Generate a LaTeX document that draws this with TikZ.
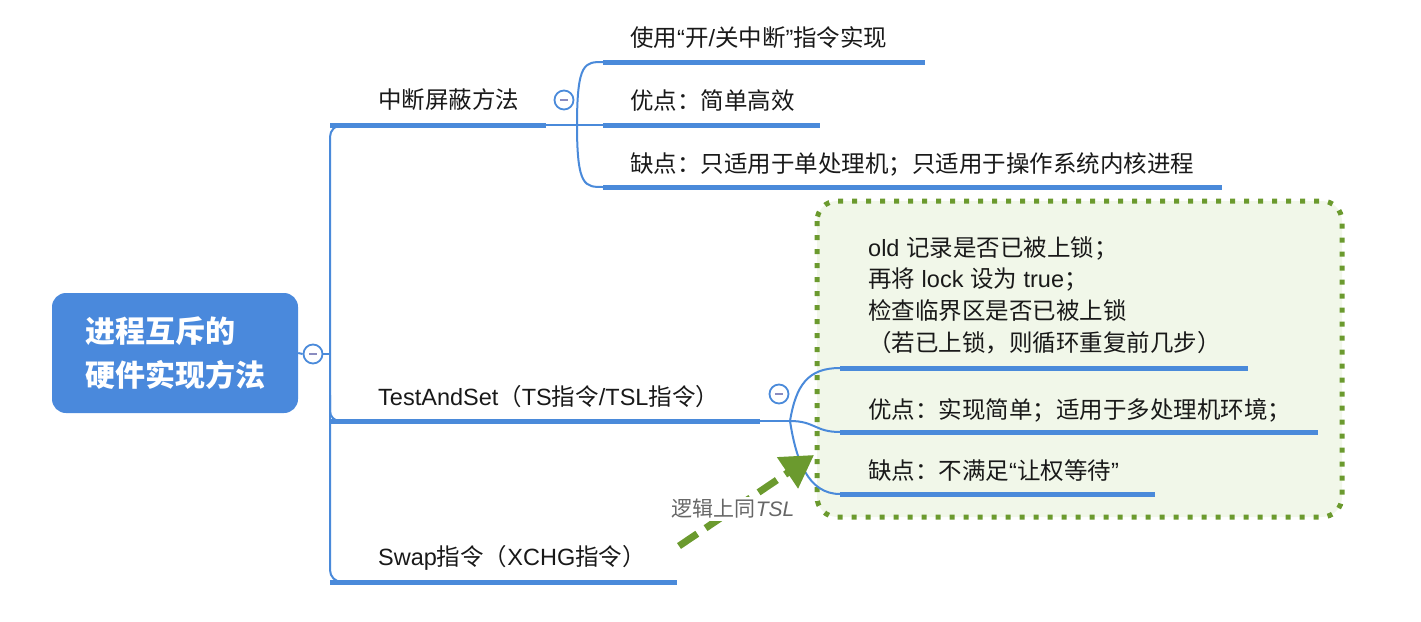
\documentclass[tikz,border=0pt]{standalone}
\usepackage{fontspec}
\setmainfont{Liberation Sans}
\newfontfamily\cjk{Noto Sans CJK SC}
\usetikzlibrary{arrows.meta}
\definecolor{mblue}{HTML}{4A89DC}
\definecolor{lblue}{HTML}{4A8ADA}
\definecolor{gborder}{HTML}{6B9A2E}
\definecolor{gfill}{HTML}{F1F7E9}
\definecolor{minusc}{HTML}{8A8CC0}
\definecolor{labgray}{HTML}{666666}
\tikzset{
  txt/.style={anchor=west, inner sep=0pt, font=\fontsize{23.5}{31.6}\selectfont, text=black!90},
  uline/.style={line width=5pt, lblue},
  conn/.style={line width=2pt, lblue},
  coll/.style={circle, draw=lblue, line width=1.8pt, fill=white, minimum size=19pt, inner sep=0pt,
    path picture={\draw[minusc, line width=1.6pt] (path picture bounding box.center) +(-4pt,0pt) -- +(4pt,0pt);}},
  rootbox/.style={rectangle, rounded corners=14pt, fill=mblue, minimum width=246pt, minimum height=120pt,
    text=white, align=left, font=\fontsize{30}{44}\selectfont\cjk\bfseries},
  gbox/.style={draw=gborder, fill=gfill, line width=5pt, dash pattern=on 5pt off 9pt, rounded corners=20pt},
  garrow/.style={draw=gborder, line width=7pt, dash pattern=on 22pt off 10pt, -{Triangle[length=32pt,width=36pt]}},
}
\begin{document}
\begin{tikzpicture}[x=1pt,y=-1pt]
\useasboundingbox (0,0) rectangle (1421,621);

% green box
\path[gbox] (817,201) rectangle (1342,517);

% root
\node[rootbox] (root) at (175,353) {进程互斥的\\硬件实现方法};
\node[coll] (c0) at (313,354) {};

% trunk
\draw[conn] (root.east) -- (c0.west);
\coordinate (tr) at (330,354);
\draw[conn] (c0.east) -- (tr);
\draw[conn, rounded corners=12pt] (352,125) -- (330,125) -- (330,582) -- (352,582);
\draw[conn, rounded corners=10pt] (330,395) -- (330,421) -- (352,421);

% branch 1
\node[txt] (b1) at (378,100) {{\cjk 中断屏蔽方法}};
\coordinate (b1s) at (330,125); \coordinate (b1e) at (546,125);
\draw[uline] (b1s) -- (b1e);
\coordinate (f1) at (577,125);
\draw[conn] (b1e) -- (f1);
\node[coll] (c1) at (564,100) {};
\coordinate (l1s) at (603,62);  \coordinate (l1e) at (925,62);
\coordinate (l2s) at (603,125); \coordinate (l2e) at (820,125);
\coordinate (l3s) at (603,187); \coordinate (l3e) at (1222,187);
\draw[conn] (f1) .. controls (577,62) and (585,62) .. (l1s);
\draw[conn] (f1) -- (l2s);
\draw[conn] (f1) .. controls (577,187) and (585,187) .. (l3s);
\draw[uline] (l1s) -- (l1e);
\draw[uline] (l2s) -- (l2e);
\draw[uline] (l3s) -- (l3e);
\node[txt] (t1) at (630,38) {{\cjk 使用}“{\cjk 开}/{\cjk 关中断}”{\cjk 指令实现}};
\node[txt] (t2) at (630,101) {{\cjk 优点：简单高效}};
\node[txt] (t3) at (630,164) {{\cjk 缺点：只适用于单处理机；只适用于操作系统内核进程}};

% branch 2
\node[txt] (b2) at (378,397) {TestAndSet{\cjk （}TS{\cjk 指令}/TSL{\cjk 指令）}};
\coordinate (b2s) at (330,421); \coordinate (b2e) at (760,421);
\draw[uline] (b2s) -- (b2e);
\coordinate (f2) at (790,421);
\draw[conn] (b2e) -- (f2);
\node[coll] (c2) at (779,394) {};
\coordinate (m1s) at (840,368); \coordinate (m1e) at (1248,368);
\coordinate (m2s) at (840,432); \coordinate (m2e) at (1318,432);
\coordinate (m3s) at (840,494); \coordinate (m3e) at (1155,494);
\draw[conn] (f2) .. controls (796,385) and (808,368) .. (m1s);
\draw[conn] (f2) .. controls (815,421) and (815,432) .. (m2s);
\draw[conn] (f2) .. controls (796,460) and (808,494) .. (m3s);
\draw[uline] (m1s) -- (m1e);
\draw[uline] (m2s) -- (m2e);
\draw[uline] (m3s) -- (m3e);
\node[txt, align=left] (k1) at (868,295) {old {\cjk 记录是否已被上锁；}\\{\cjk 再将} lock {\cjk 设为} true{\cjk ；}\\{\cjk 检查临界区是否已被上锁}\\{\cjk （若已上锁，则循环重复前几步）}};
\node[txt] (k2) at (868,410) {{\cjk 优点：实现简单；适用于多处理机环境；}};
\node[txt] (k3) at (868,471) {{\cjk 缺点：不满足}“{\cjk 让权等待}”};

% branch 3
\node[txt] (b3) at (378,558) {Swap{\cjk 指令（}XCHG{\cjk 指令）}};
\coordinate (b3s) at (330,582); \coordinate (b3e) at (677,582);
\draw[uline] (b3s) -- (b3e);

% dashed arrow
\coordinate (as) at (679,546);
\coordinate (ae) at (814,455);
\draw[garrow] (as) -- (ae);
\node[inner sep=2pt, fill=white, text=labgray, font=\fontsize{21}{25}\selectfont] (lab) at (733,509) {{\cjk 逻辑上同}\textit{TSL}};
\end{tikzpicture}
\end{document}
